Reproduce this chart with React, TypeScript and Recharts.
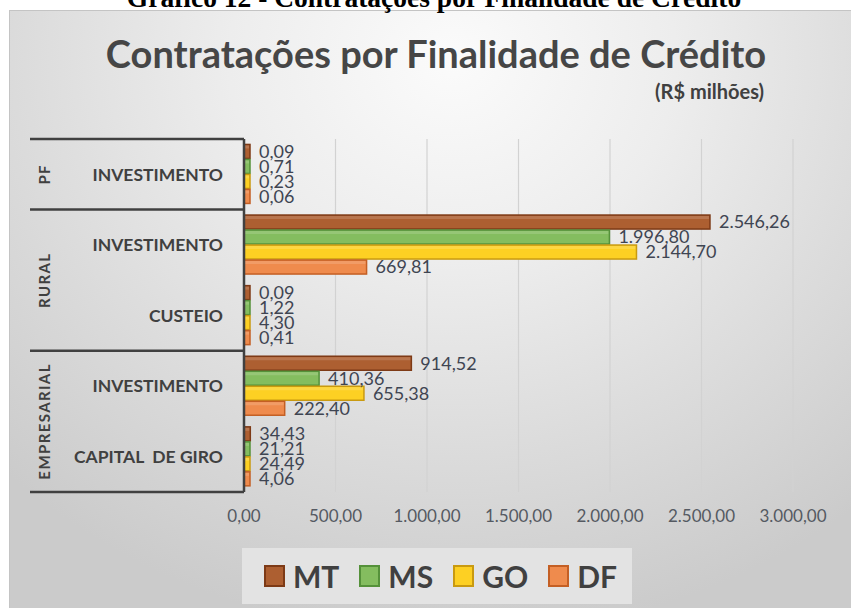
import { BarChart, Bar, XAxis, YAxis, CartesianGrid, LabelList, Legend } from 'recharts'

const groups = ['PF', 'RURAL', 'RURAL', 'EMPRESARIAL', 'EMPRESARIAL']
const purposes = ['INVESTIMENTO', 'INVESTIMENTO', 'CUSTEIO', 'INVESTIMENTO', 'CAPITAL  DE GIRO']

const mtValues = [0.09, 2546.26, 0.09, 914.52, 34.43]
const msValues = [0.71, 1996.8, 1.22, 410.36, 21.21]
const goValues = [0.23, 2144.7, 4.3, 655.38, 24.49]
const dfValues = [0.06, 669.81, 0.41, 222.4, 4.06]

const xTicks = [0, 500, 1000, 1500, 2000, 2500, 3000]

const series = [
  { key: 'MT', fill: '#ad5f31', stroke: '#7d3a16' },
  { key: 'MS', fill: '#84bd5f', stroke: '#55913a' },
  { key: 'GO', fill: '#fdd023', stroke: '#c99a10' },
  { key: 'DF', fill: '#ef8b4d', stroke: '#c45f24' },
]

const data = purposes.map((p, i) => ({
  key: `${groups[i]}|${p}|${i}`,
  MT: mtValues[i],
  MS: msValues[i],
  GO: goValues[i],
  DF: dfValues[i],
}))

const W = 851
const H = 608
const PLOT_TOP = 139
const PLOT_BOTTOM = 492
const BAND = (PLOT_BOTTOM - PLOT_TOP) / purposes.length
const TEXT = '#404040'
const FONT = 'Lato, "Open Sans", sans-serif'

function fmt(v: number) {
  const [i, d] = v.toFixed(2).split('.')
  return i.replace(/\B(?=(\d{3})+(?!\d))/g, '.') + ',' + d
}

function CategoryTick(props: any) {
  const { y, index } = props
  const g = groups[index]
  const first = index === 0 || groups[index - 1] !== g
  const isLast = index === groups.length - 1
  const count = groups.filter((x) => x === g).length
  const top = y - BAND / 2
  const groupCenter = top + (count * BAND) / 2
  return (
    <g>
      <text
        x={223}
        y={y}
        dy="0.36em"
        textAnchor="end"
        fontFamily={FONT}
        fontWeight={700}
        fontSize={17.5}
        fill={TEXT}
        style={{ whiteSpace: 'pre' }}
      >
        {purposes[index]}
      </text>
      {first && <line x1={30} x2={244} y1={top} y2={top} stroke={TEXT} strokeWidth={2.5} />}
      {isLast && (
        <line x1={30} x2={244} y1={top + BAND} y2={top + BAND} stroke={TEXT} strokeWidth={2.5} />
      )}
      {first && (
        <text
          x={45}
          y={groupCenter}
          dy="0.36em"
          textAnchor="middle"
          transform={`rotate(-90 45 ${groupCenter})`}
          fontFamily={FONT}
          fontWeight={700}
          fontSize={15}
          letterSpacing={1.4}
          fill={TEXT}
        >
          {g}
        </text>
      )}
    </g>
  )
}

function BarShape(props: any) {
  const { x, y, width, height, fill, stroke } = props
  if (!width || width <= 0) return null
  return (
    <g>
      <rect x={x} y={y + 0.5} width={width} height={height - 1} fill={fill} stroke={stroke} strokeWidth={1.5} />
      <rect x={x + 1} y={y + 1.5} width={Math.max(width - 2, 0)} height={3} fill="#ffffff" opacity={0.15} />
    </g>
  )
}

function LegendBox() {
  return (
    <div
      style={{
        width: 390,
        height: 56,
        background: '#e3e3e3',
        display: 'flex',
        alignItems: 'center',
        paddingLeft: 22,
        boxSizing: 'border-box',
        fontFamily: FONT,
      }}
    >
      {series.map((s) => (
        <div key={s.key} style={{ display: 'flex', alignItems: 'center', marginRight: 20 }}>
          <span
            style={{
              width: 17,
              height: 18,
              background: s.fill,
              border: `2px solid ${s.stroke}`,
              marginRight: 8,
              display: 'inline-block',
            }}
          />
          <span style={{ fontSize: 30, fontWeight: 700, color: TEXT, lineHeight: '31px' }}>{s.key}</span>
        </div>
      ))}
    </div>
  )
}

export default function App() {
  return (
    <div style={{ position: 'absolute', left: 0, top: 0, width: W, height: H, overflow: 'hidden', background: '#fff' }}>
      <div
        style={{
          position: 'absolute',
          left: 9,
          top: 10,
          width: W,
          height: H,
          borderTop: '1px solid #c4c4c4',
          borderLeft: '1px solid #c4c4c4',
          background:
            'radial-gradient(ellipse 75% 95% at 52% 8%, #fbfbfb 0%, #ededed 35%, #dddddd 65%, #cbcbcb 100%)',
        }}
      />
      <svg width={W} height={130} style={{ position: 'absolute', left: 0, top: 0 }}>
        <text
          x={434}
          y={7}
          textAnchor="middle"
          fontFamily='"Liberation Serif", "Times New Roman", serif'
          fontWeight={700}
          fontSize={27.5}
          fill="#000"
        >
          Gráfico 12 - Contratações por Finalidade de Crédito
        </text>
        <text x={436} y={68} textAnchor="middle" fontFamily={FONT} fontWeight={700} fontSize={38} fill="#464646">
          Contratações por Finalidade de Crédito
        </text>
        <text x={764} y={99} textAnchor="end" fontFamily={FONT} fontWeight={700} fontSize={20} fill={TEXT}>
          (R$ milhões)
        </text>
      </svg>
      <div style={{ position: 'absolute', left: 0, top: 0 }}>
        <BarChart
          width={W}
          height={H}
          data={data}
          layout="vertical"
          margin={{ top: PLOT_TOP, right: W - 793, bottom: H - PLOT_BOTTOM - 40, left: 10 }}
          barCategoryGap="7%"
          barGap={0}
        >
          <CartesianGrid horizontal={false} stroke="#d2d2d2" strokeWidth={1.2} />
          <XAxis
            type="number"
            domain={[0, 3000]}
            ticks={xTicks}
            tickFormatter={fmt}
            axisLine={false}
            tickLine={false}
            height={40}
            tickMargin={12}
            tick={{ fontSize: 17, fill: '#555a62', fontFamily: FONT }}
          />
          <YAxis
            type="category"
            dataKey="key"
            width={234}
            interval={0}
            tickLine={false}
            axisLine={{ stroke: TEXT, strokeWidth: 2.5 }}
            tick={<CategoryTick />}
          />
          <Legend
            verticalAlign="middle"
            align="center"
            content={<LegendBox />}
            wrapperStyle={{ position: 'absolute', left: 242, top: 548, width: 390, height: 56 }}
          />
          {series.map((s) => (
            <Bar
              key={s.key}
              dataKey={s.key}
              fill={s.fill}
              stroke={s.stroke}
              minPointSize={6}
              shape={<BarShape />}
              isAnimationActive={false}
            >
              <LabelList
                dataKey={s.key}
                position="right"
                offset={9}
                formatter={(v: any) => fmt(Number(v))}
                style={{ fontSize: 18, fill: '#3f4552', fontFamily: FONT }}
              />
            </Bar>
          ))}
        </BarChart>
      </div>
    </div>
  )
}
